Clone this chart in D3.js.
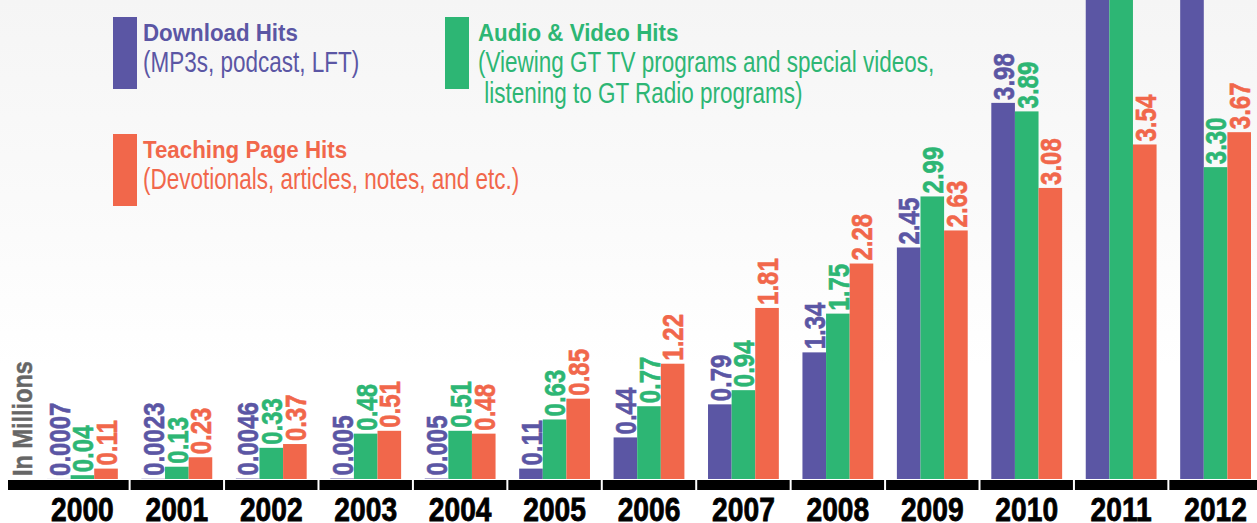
<!DOCTYPE html>
<html>
<head>
<meta charset="utf-8">
<script src="https://cdn.jsdelivr.net/npm/d3@7"></script>
<style>
  html, body { margin: 0; padding: 0; background: #fff; }
  svg { display: block; }
  .f { font-family: "Liberation Sans", Arial, Helvetica, sans-serif; }
</style>
</head>
<body>
<svg id="chart" width="1257" height="523"></svg>
<script>
// ---- data ----
const years = ["2000","2001","2002","2003","2004","2005","2006","2007","2008","2009","2010","2011","2012"];
const seriesKeys = ["download", "audioVideo", "teaching"];
const downloadHits   = [0.0007, 0.0023, 0.0046, 0.005, 0.005, 0.11, 0.44, 0.79, 1.34, 2.45, 3.98, 5.8, 6.2];
const audioVideoHits = [0.04, 0.13, 0.33, 0.48, 0.51, 0.63, 0.77, 0.94, 1.75, 2.99, 3.89, 5.6, 3.30];
const teachingHits   = [0.11, 0.23, 0.37, 0.51, 0.48, 0.85, 1.22, 1.81, 2.28, 2.63, 3.08, 3.54, 3.67];
const valueLabels = {
  download:   ["0.0007","0.0023","0.0046","0.005","0.005","0.11","0.44","0.79","1.34","2.45","3.98","",""],
  audioVideo: ["0.04","0.13","0.33","0.48","0.51","0.63","0.77","0.94","1.75","2.99","3.89","","3.30"],
  teaching:   ["0.11","0.23","0.37","0.51","0.48","0.85","1.22","1.81","2.28","2.63","3.08","3.54","3.67"]
};
const seriesValues = { download: downloadHits, audioVideo: audioVideoHits, teaching: teachingHits };
const seriesColors = { download: "#5b56a4", audioVideo: "#2db674", teaching: "#f1674b" };
const legendTitles = ["Download Hits", "Audio & Video Hits", "Teaching Page Hits"];
const legendSubtitles = [
  ["(MP3s, podcast, LFT)"],
  ["(Viewing GT TV programs and special videos,", " listening to GT Radio programs)"],
  ["(Devotionals, articles, notes, and etc.)"]
];
const yAxisTitle = "In Millions";

// ---- layout ----
const W = 1257, H = 523;
const baseY = 479;
const svg = d3.select("#chart");

// background
const defs = svg.append("defs");
const grad = defs.append("linearGradient").attr("id","bg").attr("x1",0).attr("y1",0).attr("x2",0).attr("y2",1);
grad.append("stop").attr("offset","0%").attr("stop-color","#f5f5f5");
grad.append("stop").attr("offset","45%").attr("stop-color","#fbfbfb");
grad.append("stop").attr("offset","70%").attr("stop-color","#ffffff");
svg.append("rect").attr("width",W).attr("height",H).attr("fill","url(#bg)");

const x0 = d3.scaleBand().domain(years).range([47, 1251]).paddingInner(0.25).paddingOuter(0);
const x1 = d3.scaleBand().domain(seriesKeys).range([0, x0.bandwidth()]);
const y = d3.scaleLinear().domain([0, 4]).range([baseY, baseY - 378]);

const rows = years.map((yr, i) => ({
  year: yr,
  items: seriesKeys.map(k => ({ key: k, value: seriesValues[k][i], label: valueLabels[k][i] }))
}));

// bars
const groups = svg.append("g").selectAll("g").data(rows).join("g")
  .attr("transform", d => `translate(${x0(d.year)},0)`);

groups.selectAll("rect").data(d => d.items).join("rect")
  .attr("x", d => x1(d.key))
  .attr("width", x1.bandwidth())
  .attr("y", d => y(d.value))
  .attr("height", d => baseY - y(d.value))
  .attr("fill", d => seriesColors[d.key]);

// value labels (rotated, condensed)
groups.selectAll("text.val").data(d => d.items.filter(it => it.label)).join("text")
  .attr("class", "val f")
  .attr("transform", d => `translate(${x1(d.key) + x1.bandwidth()/2},${y(d.value) - 3}) rotate(-90) scale(0.8,1)`)
  .attr("dy", "0.36em")
  .attr("text-anchor", "start")
  .attr("font-size", 30)
  .attr("font-weight", "bold")
  .attr("fill", d => seriesColors[d.key])
  .attr("stroke", d => seriesColors[d.key])
  .attr("stroke-width", 0.6)
  .text(d => d.label);

// axis band (black segments)
const step = x0.step();
const axisG = svg.append("g");
years.forEach((yr, i) => {
  const c = x0(yr) + x0.bandwidth()/2;
  let l = c - step/2 + 1, r = c + step/2 - 1;
  if (i === 0) l = 8;
  if (i === years.length - 1) r = W;
  axisG.append("rect").attr("x", l).attr("y", 480).attr("width", r - l).attr("height", 10).attr("fill", "#000");
});

// year labels using d3 axis
const xAxis = d3.axisBottom(x0).tickSize(0).tickPadding(0);
const axG = svg.append("g").attr("transform", `translate(0,${baseY})`).call(xAxis);
axG.select(".domain").remove();
axG.selectAll("text")
  .attr("class", "f")
  .attr("y", 42)
  .attr("dy", 0)
  .attr("transform", "scale(0.83,1)")
  .attr("font-size", 34)
  .attr("font-weight", "bold")
  .attr("fill", "#000")
  .attr("stroke", "#000")
  .attr("stroke-width", 0.8);

// y axis title
svg.append("text")
  .attr("class", "f")
  .attr("transform", `translate(22,476) rotate(-90) scale(0.84,1)`)
  .attr("dy", "0.36em")
  .attr("font-size", 28)
  .attr("font-weight", "bold")
  .attr("fill", "#666")
  .attr("stroke", "#666")
  .attr("stroke-width", 0.5)
  .text(yAxisTitle);

// legend
const legendPos = [
  { x: 113, y: 17, tx: 143, tb: 41 },
  { x: 445, y: 17, tx: 478, tb: 41 },
  { x: 113, y: 134, tx: 143, tb: 158 }
];
seriesKeys.forEach((k, i) => {
  const p = legendPos[i];
  const g = svg.append("g");
  g.append("rect").attr("x", p.x).attr("y", p.y).attr("width", 24).attr("height", 72).attr("fill", seriesColors[k]);
  g.append("text").attr("class","f")
    .attr("transform", `translate(${p.tx},${p.tb}) scale(0.93,1)`)
    .attr("font-size", 24).attr("font-weight","bold").attr("fill", seriesColors[k])
    .text(legendTitles[i]);
  legendSubtitles[i].forEach((line, j) => {
    g.append("text").attr("class","f")
      .attr("transform", `translate(${p.tx},${p.tb + 31 + j*31}) scale(0.75,1)`)
      .attr("font-size", 30).attr("fill", seriesColors[k])
      .style("white-space","pre")
      .text(line);
  });
});
</script>
</body>
</html>
